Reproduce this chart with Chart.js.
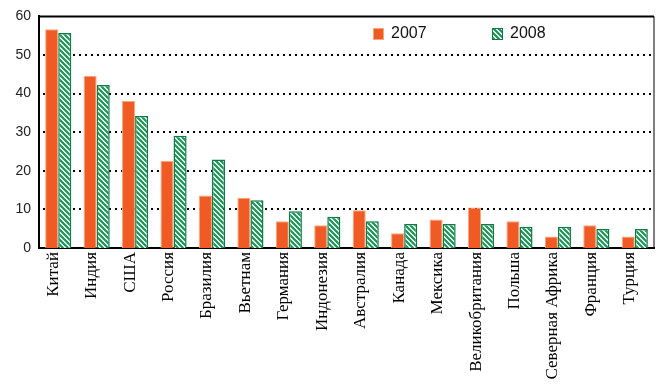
<!DOCTYPE html>
<html>
<head>
<meta charset="utf-8">
<script src="https://cdn.jsdelivr.net/npm/chart.js@4/dist/chart.umd.min.js"></script>
<style>
    html, body { margin: 0; padding: 0; background: #fff; }
    #wrap { width: 668px; height: 384px; }
</style>
</head>
<body>
<div id="wrap"><canvas id="chart" width="668" height="384"></canvas></div>
<script>
var countries = ['Китай', 'Индия', 'США', 'Россия', 'Бразилия', 'Вьетнам', 'Германия', 'Индонезия',
    'Австралия', 'Канада', 'Мексика', 'Великобритания', 'Польша', 'Северная Африка', 'Франция', 'Турция'];
var values2007 = [56.7, 44.6, 38.1, 22.6, 13.6, 13.0, 6.9, 5.9, 9.8, 3.8, 7.4, 10.5, 6.9, 3.0, 5.9, 3.0];
var values2008 = [55.7, 42.2, 34.2, 29.1, 22.9, 12.4, 9.5, 8.1, 6.9, 6.2, 6.2, 6.2, 5.5, 5.5, 4.9, 4.9];
var yTicks = [0, 10, 20, 30, 40, 50, 60];

function hatchPattern() {
    var c = document.createElement('canvas');
    c.width = 5;
    c.height = 5;
    var ctx = c.getContext('2d');
    ctx.fillStyle = '#ffffff';
    ctx.fillRect(0, 0, 5, 5);
    ctx.strokeStyle = '#1a9456';
    ctx.lineWidth = 2.2;
    ctx.beginPath();
    ctx.moveTo(-1, -1); ctx.lineTo(6, 6);
    ctx.moveTo(-1, 4); ctx.lineTo(1, 6);
    ctx.moveTo(4, -1); ctx.lineTo(6, 1);
    ctx.stroke();
    return ctx.createPattern(c, 'repeat');
}

var orange = '#f05a24';
var green = hatchPattern();

// dotted horizontal lines behind the bars
var dottedGrid = {
    id: 'dottedGrid',
    beforeDatasetsDraw: function (chart) {
        var ctx = chart.ctx;
        var a = chart.chartArea;
        var y = chart.scales.y;
        ctx.save();
        ctx.fillStyle = '#000';
        yTicks.forEach(function (v) {
            if (v === 0 || v === 60) return;
            var py = Math.round(y.getPixelForValue(v));
            for (var x = a.left + 4; x < a.right; x += 6) {
                ctx.fillRect(x, py - 1, 2, 2);
            }
        });
        ctx.restore();
    }
};

// frame on top/right and the little legend inside the plot
var framePlugin = {
    id: 'frame',
    afterDraw: function (chart) {
        var ctx = chart.ctx;
        var a = chart.chartArea;
        ctx.save();
        ctx.strokeStyle = '#000';
        ctx.lineWidth = 2;
        ctx.beginPath();
        ctx.moveTo(a.left, a.top);
        ctx.lineTo(a.right, a.top);
        ctx.stroke();
        ctx.lineWidth = 1;
        ctx.beginPath();
        ctx.moveTo(a.right, a.top);
        ctx.lineTo(a.right, a.bottom);
        ctx.stroke();

        var items = [
            { x: 373, fill: orange, border: '#f7a878', text: chart.data.datasets[0].label },
            { x: 492, fill: green, border: '#0e7a45', text: chart.data.datasets[1].label }
        ];
        items.forEach(function (it) {
            ctx.fillStyle = it.fill;
            ctx.fillRect(it.x, 28, 11, 12);
            ctx.strokeStyle = it.border;
            ctx.lineWidth = 1;
            ctx.strokeRect(it.x + 0.5, 28.5, 10, 11);
            ctx.fillStyle = '#111';
            ctx.font = '16px "Liberation Sans", Arial, sans-serif';
            ctx.textBaseline = 'middle';
            ctx.textAlign = 'left';
            ctx.fillText(it.text, it.x + 18, 34);
        });
        ctx.restore();
    }
};

new Chart(document.getElementById('chart'), {
    type: 'bar',
    data: {
        labels: countries,
        datasets: [{
            label: '2007',
            data: values2007,
            backgroundColor: orange,
            borderColor: '#f7a878',
            borderWidth: 1
        }, {
            label: '2008',
            data: values2008,
            backgroundColor: green,
            borderColor: '#0e7a45',
            borderWidth: 1.5
        }]
    },
    options: {
        responsive: false,
        animation: false,
        layout: { padding: { top: 14, right: 14, left: 0, bottom: 0 } },
        plugins: {
            legend: { display: false },
            tooltip: { enabled: false }
        },
        datasets: {
            bar: { categoryPercentage: 0.68, barPercentage: 1.0 }
        },
        scales: {
            x: {
                grid: { display: false, drawTicks: false },
                border: { display: true, color: '#000', width: 2 },
                afterFit: function (scale) { scale.height = 136; },
                ticks: {
                    autoSkip: false,
                    minRotation: 90,
                    maxRotation: 90,
                    padding: 4,
                    labelOffset: -5,
                    color: '#000',
                    font: { family: '"Liberation Serif", "Times New Roman", serif', size: 17 }
                }
            },
            y: {
                min: 0,
                max: 60,
                afterFit: function (scale) { scale.width = 39; },
                afterBuildTicks: function (scale) {
                    scale.ticks = yTicks.map(function (v) { return { value: v }; });
                },
                border: { display: true, color: '#000', width: 2 },
                grid: { display: false, drawTicks: false },
                ticks: {
                    padding: 8,
                    color: '#222',
                    font: { family: '"Liberation Sans", Arial, sans-serif', size: 14 }
                }
            }
        }
    },
    plugins: [dottedGrid, framePlugin]
});
</script>
</body>
</html>
